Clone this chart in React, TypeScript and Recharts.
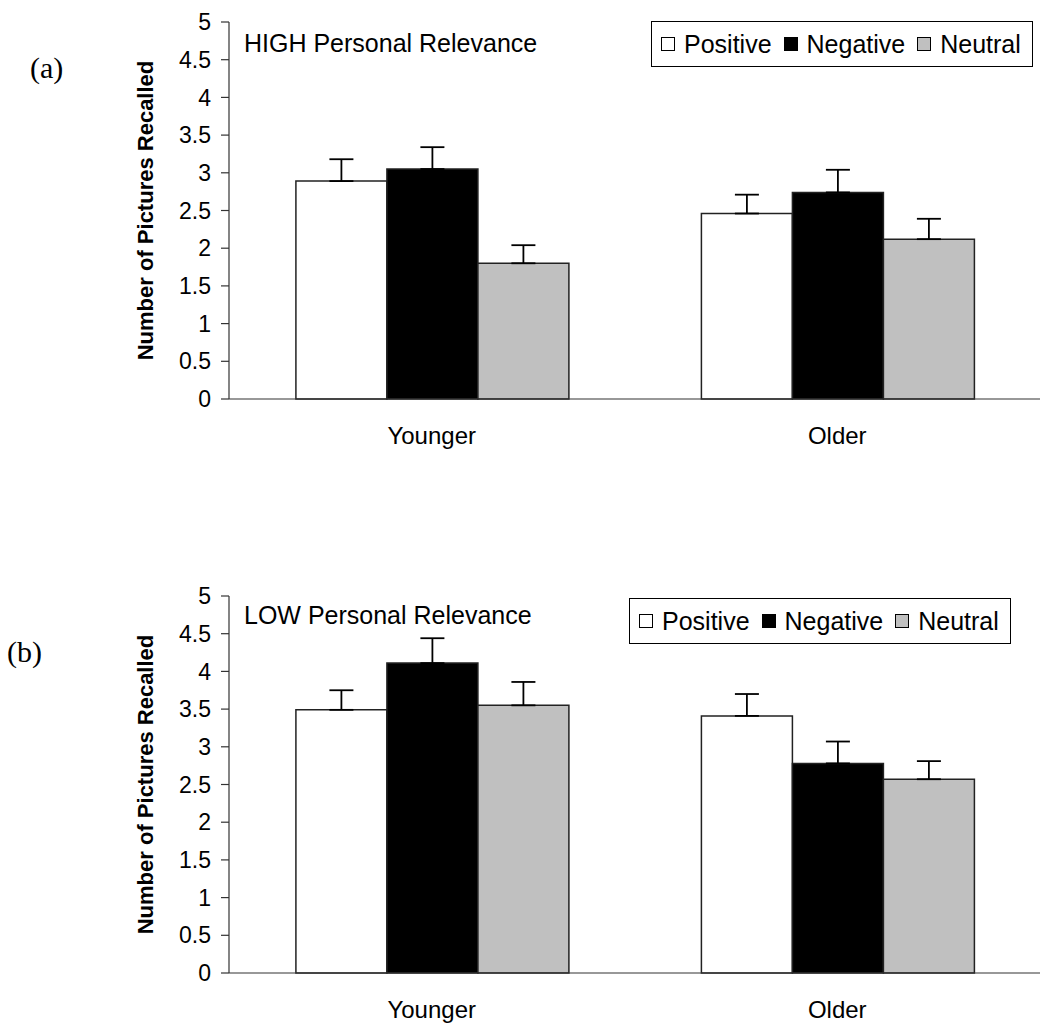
import React from "react";
import {
  BarChart,
  Bar,
  XAxis,
  YAxis,
  ErrorBar,
  Legend,
} from "recharts";

const groups = ["Younger", "Older"];
const yTicks = [0, 0.5, 1, 1.5, 2, 2.5, 3, 3.5, 4, 4.5, 5];

// (a) HIGH personal relevance
const highPositive = [2.89, 2.46];
const highNegative = [3.05, 2.74];
const highNeutral = [1.8, 2.12];
const highPositiveSE = [0.29, 0.25];
const highNegativeSE = [0.29, 0.3];
const highNeutralSE = [0.24, 0.27];

// (b) LOW personal relevance
const lowPositive = [3.49, 3.41];
const lowNegative = [4.11, 2.78];
const lowNeutral = [3.55, 2.57];
const lowPositiveSE = [0.26, 0.29];
const lowNegativeSE = [0.33, 0.29];
const lowNeutralSE = [0.31, 0.24];

const series = [
  { key: "positive", name: "Positive", fill: "#ffffff" },
  { key: "negative", name: "Negative", fill: "#000000" },
  { key: "neutral", name: "Neutral", fill: "#c0c0c0" },
];

const SANS = "'Liberation Sans', Arial, sans-serif";
const SERIF = "'Liberation Serif', 'Times New Roman', serif";

function buildRows(pos: number[], neg: number[], neu: number[], posSE: number[], negSE: number[], neuSE: number[]) {
  return groups.map((g, i) => ({
    group: g,
    positive: pos[i],
    negative: neg[i],
    neutral: neu[i],
    positiveErr: [0, posSE[i]],
    negativeErr: [0, negSE[i]],
    neutralErr: [0, neuSE[i]],
  }));
}

function LegendBox({ left, top }: { left: number; top: number }) {
  return (
    <div
      style={{
        position: "absolute",
        left,
        top,
        height: 46,
        boxSizing: "border-box",
        border: "1px solid #000",
        background: "#fff",
        display: "flex",
        alignItems: "center",
        padding: "0 11px 0 9px",
        fontFamily: SANS,
        fontSize: 25,
        color: "#000",
        whiteSpace: "nowrap",
      }}
    >
      {series.map((s, i) => (
        <div
          key={s.key}
          style={{ display: "flex", alignItems: "center", marginLeft: i === 0 ? 0 : 12 }}
        >
          <span
            style={{
              display: "inline-block",
              width: 14,
              height: 14,
              boxSizing: "border-box",
              background: s.fill,
              border: "1.5px solid #000",
              marginRight: 9,
            }}
          />
          <span>{s.name}</span>
        </div>
      ))}
    </div>
  );
}

interface PanelProps {
  top: number;
  tag: string;
  tagLeft: number;
  tagTop: number;
  title: string;
  titleTop: number;
  legendLeft: number;
  legendTop: number;
  rows: ReturnType<typeof buildRows>;
}

function Panel({ top, tag, tagLeft, tagTop, title, titleTop, legendLeft, legendTop, rows }: PanelProps) {
  return (
    <div style={{ position: "absolute", left: 0, top, width: 1040, height: 451 }}>
      <BarChart
        width={1040}
        height={451}
        data={rows}
        margin={{ top: 22, right: 0, left: 0, bottom: 0 }}
        barCategoryGap="16.5%"
        barGap={0}
      >
        <XAxis
          dataKey="group"
          height={52}
          tickLine={false}
          tickSize={0}
          tickMargin={28}
          axisLine={{ stroke: "#333", strokeWidth: 1.2 }}
          tick={{ fontSize: 24, fill: "#000", fontFamily: SANS }}
        />
        <YAxis
          width={229}
          domain={[0, 5]}
          ticks={yTicks}
          interval={0}
          tickSize={8}
          tickMargin={10}
          axisLine={{ stroke: "#333", strokeWidth: 1.2 }}
          tickLine={{ stroke: "#333", strokeWidth: 1.2 }}
          tick={{ fontSize: 23, fill: "#000", fontFamily: SANS }}
          label={{
            value: "Number of Pictures Recalled",
            angle: -90,
            position: "center",
            dx: 31,
            style: { fontSize: 22, fontWeight: "bold", fill: "#000", fontFamily: SANS },
          }}
        />
        <Legend
          layout="horizontal"
          verticalAlign="middle"
          align="center"
          wrapperStyle={{ left: 0, top: 0, width: 0, height: 0 }}
          content={() => <LegendBox left={legendLeft} top={legendTop} />}
        />
        {series.map((s) => (
          <Bar
            key={s.key}
            dataKey={s.key}
            name={s.name}
            fill={s.fill}
            stroke="#222"
            strokeWidth={1.5}
            isAnimationActive={false}
          >
            <ErrorBar
              dataKey={`${s.key}Err`}
              direction="y"
              width={12}
              stroke="#000"
              strokeWidth={1.8}
              isAnimationActive={false}
            />
          </Bar>
        ))}
      </BarChart>
      <div
        style={{
          position: "absolute",
          left: 244,
          top: titleTop,
          fontFamily: SANS,
          fontSize: 25,
          lineHeight: "25px",
          color: "#000",
          whiteSpace: "nowrap",
        }}
      >
        {title}
      </div>
      <div
        style={{
          position: "absolute",
          left: tagLeft,
          top: tagTop,
          fontFamily: SERIF,
          fontSize: 30,
          lineHeight: "30px",
          color: "#000",
        }}
      >
        {tag}
      </div>
    </div>
  );
}

export default function App() {
  const highRows = buildRows(highPositive, highNegative, highNeutral, highPositiveSE, highNegativeSE, highNeutralSE);
  const lowRows = buildRows(lowPositive, lowNegative, lowNeutral, lowPositiveSE, lowNegativeSE, lowNeutralSE);
  return (
    <div style={{ position: "absolute", left: 0, top: 0, width: 1040, height: 1025, background: "#fff", overflow: "hidden" }}>
      <Panel
        top={0}
        tag="(a)"
        tagLeft={30}
        tagTop={53}
        title="HIGH Personal Relevance"
        titleTop={31}
        legendLeft={651}
        legendTop={21}
        rows={highRows}
      />
      <Panel
        top={574}
        tag="(b)"
        tagLeft={7}
        tagTop={63}
        title="LOW Personal Relevance"
        titleTop={29}
        legendLeft={629}
        legendTop={24}
        rows={lowRows}
      />
    </div>
  );
}
